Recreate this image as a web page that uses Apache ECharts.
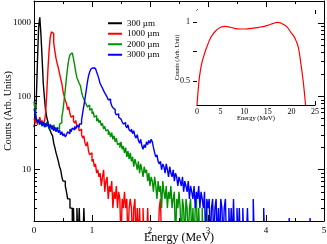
<!DOCTYPE html>
<html><head><meta charset="utf-8">
<script src="https://cdn.jsdelivr.net/npm/echarts@6/dist/echarts.min.js"></script>
<style>html,body{margin:0;padding:0;background:#fff}#c{width:327px;height:244px}</style>
</head><body><div id="c"></div>
<script>
// ---------- data ----------
const binWidth = 0.02; // MeV per histogram bin
const seriesNames = ['300 µm', '1000 µm', '2000 µm', '3000 µm'];
const seriesColors = ['#000000', '#ff0000', '#009000', '#0000ff'];

const counts300 = [38,46,92,310,880,1200,690,330,150,95,
 64,52,45,37,34,31,29,23,20,17,
 15,13,11,10,8,7,7,6,5,4,
 4,3,3,1,3,1,1,3,1,3,
 1,1,1,3,1,1];

const counts1000 = [50,44,48,41,46,52,43,47,40,45,
 58,110,230,420,640,760,720,540,410,330,
 280,245,205,175,150,118,102,88,80,66,
 72,58,52,55,46,43,47,38,41,34,
 36,30,27,29,23,21,24,18,16,17,
 13,14,11,12,9,10,8,9,6,8,
 10,5,7,8,4,6,5,7,3,5,
 4,6,3,5,4,1,4,3,5,3,
 4,1,3,4,3,1,3,4,1,3,
 1,3,1,1,3,1,1,1,3,1,
 1,1,1,1,1,1,1,1,3,4,
 1];

const counts2000 = [85,62,50,44,48,41,46,39,44,42,
 38,45,40,36,42,39,35,41,37,34,
 38,36,42,44,52,65,90,125,180,250,
 320,370,392,375,330,270,215,180,165,150,
 140,115,100,92,84,78,72,76,65,68,
 58,62,52,55,46,50,44,47,40,43,
 36,39,34,35,30,33,28,32,26,29,
 24,27,22,23,20,24,19,21,17,20,
 15,18,14,17,13,15,11,14,12,10,
 13,9,12,10,8,11,9,10,7,9,
 6,8,7,5,8,6,4,7,5,6,
 3,7,5,4,6,3,5,4,6,3,
 4,5,1,4,3,5,3,1,4,3,
 1,4,3,1,3,4,1,3,1,3,
 4,1,3,1,1,3,1,1,1,3,
 1];

const counts3000 = [68,58,50,44,48,42,46,40,45,38,
 43,39,44,37,41,36,40,34,38,33,
 37,32,35,30,33,29,31,28,30,33,
 31,36,33,37,35,39,36,40,38,42,
 42,48,60,75,95,120,155,190,215,235,
 246,238,240,228,215,195,172,150,140,130,
 120,112,105,98,90,92,84,75,70,66,
 60,56,58,52,49,50,45,42,44,40,
 37,41,35,33,36,31,34,29,27,30,
 25,23,26,21,19,22,20,24,22,25,
 23,26,24,20,17,15,16,13,12,13,
 10,12,11,9,12,10,8,11,9,8,
 10,7,9,8,6,8,7,6,8,5,
 7,6,5,7,4,6,5,4,6,3,
 5,4,6,3,5,4,3,5,1,4,
 3,4,1,3,4,1,3,4,1,3,
 1,4,3,1,3,4,1,1,3,1,
 3,1,4,1,1,3,1,3,1,1,
 3,1,1,1,3,1,1,1,1,4,
 1,1,1,1,1,1,1,1,3,1,
 1,1,1,1,1,1,1,1,1,1,
 1,1,1,1,1,1,1,1,1,1,
 2.2,1,1,1,1,1,1,1,1,1,
 1,1,1,1,1,1,1,1,2.2,1,
 1];

const mainYMajor = [10, 100, 1000];
const mainYMinor = [2,3,4,5,6,7,8,9,20,30,40,50,60,70,80,90,200,300,400,500,600,700,800,900,2000];

// inset: normalized spectrum
const insetEnergy = [0, 0.2, 0.5, 1, 1.5, 2, 3, 4, 5, 6, 7, 8, 9, 10, 11, 12, 13, 14, 15, 16, 17, 17.5, 18, 19, 20, 20.5, 21, 21.5, 22, 22.5, 23];
const insetCounts = [0.3, 0.4, 0.53, 0.65, 0.72, 0.78, 0.875, 0.925, 0.955, 0.962, 0.955, 0.945, 0.94, 0.94, 0.943, 0.947, 0.953, 0.96, 0.97, 0.985, 0.995, 0.994, 0.985, 0.96, 0.905, 0.88, 0.84, 0.78, 0.65, 0.5, 0.3];
const insetYLabels = ['0.5', '1'];
const insetYTicks = [0.5, 0.75, 1];

// ---------- chart ----------
const FONT = 'Liberation Serif';
const allCounts = [counts300, counts1000, counts2000, counts3000];
const chart = echarts.init(document.getElementById('c'), null, {renderer: 'canvas'});
const plain = v => String(v);
const insetLabel = v => {
  const s = String(Math.round(v * 100) / 100);
  return insetYLabels.indexOf(s) >= 0 ? s : '';
};

function xAx(grid, pos, min, max, interval, showLabel, major, minor, fs, name, nameGap, nameFs, margin) {
  const ax = {
    gridIndex: grid, type: 'value', position: pos, min: min, max: max, interval: interval,
    axisLine: {show: true, onZero: false, lineStyle: {color: '#000', width: 1}},
    axisTick: {show: true, inside: true, length: major, lineStyle: {color: '#000', width: 1}},
    minorTick: {show: true, splitNumber: 2, length: minor, lineStyle: {color: '#000', width: 1}},
    splitLine: {show: false},
    axisLabel: showLabel ? {show: true, color: '#000', fontFamily: FONT, fontSize: fs, margin: margin, formatter: plain} : {show: false}
  };
  if (name) {
    ax.name = name; ax.nameLocation = 'middle'; ax.nameGap = nameGap; ax.nameMoveOverlap = false;
    ax.nameTextStyle = {color: '#000', fontFamily: FONT, fontSize: nameFs};
  }
  return ax;
}

const option = {
  animation: false,
  backgroundColor: '#fff',
  grid: [
    {left: 34, right: 3, top: 1, bottom: 23, outerBoundsMode: 'none'},
    {left: 197, top: 10, width: 118, height: 95, outerBoundsMode: 'none',
     show: true, backgroundColor: '#fff', borderColor: 'transparent', z: 5}
  ],
  legend: {
    data: seriesNames, orient: 'vertical', left: 108, top: 18, padding: 0, selectedMode: false,
    itemWidth: 14, itemHeight: 2, itemGap: 0, icon: 'rect',
    textStyle: {color: '#000', fontFamily: FONT, fontSize: 9, lineHeight: 10.5}
  },
  xAxis: [
    xAx(0, 'bottom', 0, 5, 1, true, 6, 3, 9, 'Energy (MeV)', 11, 12, 5),
    xAx(0, 'top', 0, 5, 1, false, 6, 3, 9),
    xAx(1, 'bottom', 0, 25, 5, true, 4, 2, 8, 'Energy (MeV)', 10, 6.5, 3),
    xAx(1, 'top', 0, 25, 5, false, 4, 2, 8)
  ],
  yAxis: [
    {gridIndex: 0, type: 'log', logBase: 10, min: 2, max: 2000, position: 'left',
     axisLine: {show: true, lineStyle: {color: '#000', width: 1}},
     axisTick: {show: true, inside: true, length: 6, customValues: mainYMajor, lineStyle: {color: '#000'}},
     axisLabel: {color: '#000', fontFamily: FONT, fontSize: 9, margin: 3, customValues: mainYMajor, formatter: plain},
     splitLine: {show: false},
     name: 'Counts (Arb. Units)', nameLocation: 'middle', nameGap: 21, nameMoveOverlap: false,
     nameTextStyle: {color: '#000', fontFamily: FONT, fontSize: 10}},
    {gridIndex: 0, type: 'log', logBase: 10, min: 2, max: 2000, position: 'left',
     axisLine: {show: false},
     axisTick: {show: true, inside: true, length: 3, customValues: mainYMinor, lineStyle: {color: '#000'}},
     axisLabel: {show: false}, splitLine: {show: false}},
    {gridIndex: 0, type: 'log', logBase: 10, min: 2, max: 2000, position: 'right',
     axisLine: {show: true, lineStyle: {color: '#000', width: 1}},
     axisTick: {show: true, inside: true, length: 6, customValues: mainYMajor, lineStyle: {color: '#000'}},
     axisLabel: {show: false}, splitLine: {show: false}},
    {gridIndex: 0, type: 'log', logBase: 10, min: 2, max: 2000, position: 'right',
     axisLine: {show: false},
     axisTick: {show: true, inside: true, length: 3, customValues: mainYMinor, lineStyle: {color: '#000'}},
     axisLabel: {show: false}, splitLine: {show: false}},
    {gridIndex: 1, type: 'value', min: 0.3, max: 1.1, interval: 0.1, position: 'left',
     axisLine: {show: true, lineStyle: {color: '#000', width: 1}},
     axisTick: {show: true, inside: true, length: 4, customValues: insetYTicks, lineStyle: {color: '#000'}},
     axisLabel: {color: '#000', fontFamily: FONT, fontSize: 8, margin: 7, formatter: insetLabel},
     splitLine: {show: false},
     name: 'Counts (Arb. Unit)', nameLocation: 'middle', nameGap: 17, nameMoveOverlap: false,
     nameTextStyle: {color: '#000', fontFamily: FONT, fontSize: 6}},
    {gridIndex: 1, type: 'value', min: 0.3, max: 1.1, position: 'right',
     axisLine: {show: true, lineStyle: {color: '#000', width: 1}},
     axisTick: {show: true, inside: true, length: 4, customValues: insetYTicks, lineStyle: {color: '#000'}},
     axisLabel: {show: false}, splitLine: {show: false}}
  ],
  series: allCounts.map((arr, k) => ({
    name: seriesNames[k], type: 'line', xAxisIndex: 0, yAxisIndex: 0,
    step: 'end', showSymbol: false, symbol: 'none', clip: true,
    lineStyle: {color: seriesColors[k], width: 1.4},
    itemStyle: {color: seriesColors[k]},
    data: arr.map((v, i) => [i * binWidth, v])
  })).concat([{
    type: 'line', xAxisIndex: 2, yAxisIndex: 4,
    smooth: 0.4, showSymbol: false, symbol: 'none', clip: true, z: 6,
    lineStyle: {color: '#ff0000', width: 1.2},
    data: insetEnergy.map((e, i) => [e, insetCounts[i]])
  }])
};
chart.setOption(option);
</script>
</body></html>
